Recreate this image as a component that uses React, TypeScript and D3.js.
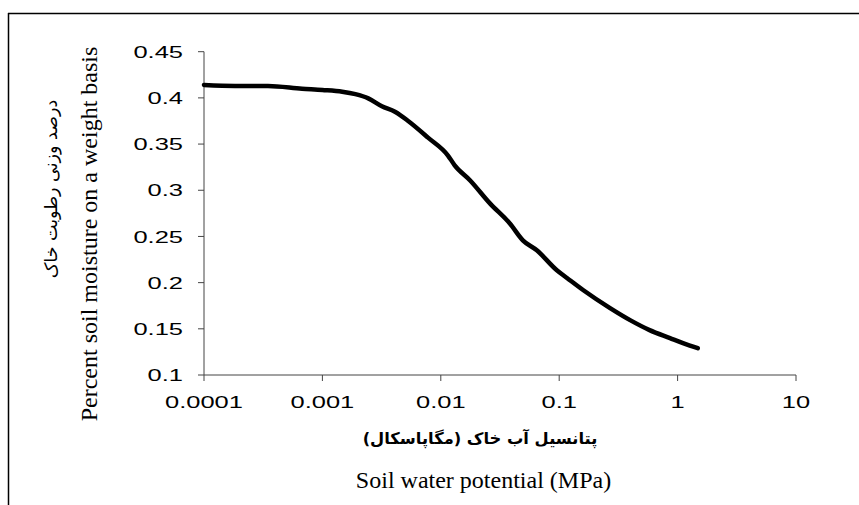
import React from "react";
import * as d3 from "d3";

// soil water retention curve
const potentialMPa = [
  0.0001, 0.000183, 0.000347, 0.000673, 0.001, 0.00147, 0.0019, 0.00244,
  0.00318, 0.0041, 0.0053, 0.0078, 0.0115, 0.0131, 0.0177, 0.026, 0.0383,
  0.0493, 0.0647, 0.0955, 0.117, 0.159, 0.269, 0.397, 0.58, 0.863, 1.11, 1.48,
];
const moisture = [
  0.414, 0.413, 0.413, 0.41, 0.4086, 0.4067, 0.404, 0.3995, 0.391, 0.385,
  0.375, 0.357, 0.3376, 0.327, 0.3106, 0.2858, 0.264, 0.2458, 0.235, 0.2134,
  0.2048, 0.192, 0.1724, 0.1594, 0.1486, 0.14, 0.1346, 0.129,
];
const xTicks = [0.0001, 0.001, 0.01, 0.1, 1, 10];
const xTickLabels = ["0.0001", "0.001", "0.01", "0.1", "1", "10"];
const yTicks = [0.1, 0.15, 0.2, 0.25, 0.3, 0.35, 0.4, 0.45];
const yTickLabels = ["0.1", "0.15", "0.2", "0.25", "0.3", "0.35", "0.4", "0.45"];

const W = 859;
const H = 505;
const plot = { left: 204, right: 796, top: 51.7, bottom: 375 };

export default function App() {
  const x = d3.scaleLog().domain([0.0001, 10]).range([plot.left, plot.right]);
  const y = d3.scaleLinear().domain([0.1, 0.45]).range([plot.bottom, plot.top]);

  const line = d3
    .line<number>()
    .x((d, i) => x(potentialMPa[i]))
    .y((d) => y(d))
    .curve(d3.curveMonotoneX);

  const axisColor = "#444";
  const sans = "'Liberation Sans', Arial, sans-serif";
  const serif = "'Liberation Serif', 'Times New Roman', serif";
  const persian = "'DejaVu Sans', sans-serif";
  // tick labels in the original are drawn wide
  const stretch = 1.5;

  return (
    <svg
      width={W}
      height={H}
      style={{ position: "absolute", left: 0, top: 0, background: "#fff" }}
    >
      <rect x={0} y={0} width={W} height={H} fill="#fff" />
      {/* frame: only top and left edges are visible */}
      <line x1={8} x2={W} y1={13.5} y2={13.5} stroke="#000" strokeWidth={1.5} />
      <line x1={8.5} x2={8.5} y1={13} y2={H} stroke="#000" strokeWidth={1.5} />

      {/* axes */}
      <line x1={plot.left} x2={plot.left} y1={plot.top} y2={plot.bottom} stroke={axisColor} />
      <line x1={plot.left} x2={plot.right} y1={plot.bottom} y2={plot.bottom} stroke={axisColor} />

      {yTicks.map((t, i) => (
        <g key={"y" + t}>
          <line x1={plot.left - 6} x2={plot.left} y1={y(t)} y2={y(t)} stroke={axisColor} />
          <text
            transform={`translate(183,${y(t)}) scale(${stretch},1)`}
            dy="0.36em"
            textAnchor="end"
            fontFamily={sans}
            fontSize={17}
          >
            {yTickLabels[i]}
          </text>
        </g>
      ))}

      {xTicks.map((t, i) => (
        <g key={"x" + t}>
          <line x1={x(t)} x2={x(t)} y1={plot.bottom} y2={plot.bottom + 6} stroke={axisColor} />
          <text
            transform={`translate(${x(t)},408) scale(${stretch},1)`}
            textAnchor="middle"
            fontFamily={sans}
            fontSize={17}
          >
            {xTickLabels[i]}
          </text>
        </g>
      ))}

      <path
        d={line(moisture) || ""}
        fill="none"
        stroke="#000"
        strokeWidth={4.5}
        strokeLinejoin="round"
        strokeLinecap="round"
      />

      {/* axis titles */}
      <text
        transform="translate(97,234) rotate(-90)"
        textAnchor="middle"
        fontFamily={serif}
        fontSize={24}
      >
        Percent soil moisture on a weight basis
      </text>
      <text
        transform="translate(57,189) rotate(-90)"
        textAnchor="middle"
        fontFamily={persian}
        fontSize={17.5}
        direction="rtl"
      >
        درصد وزنی رطوبت خاک
      </text>
      <text
        x={480}
        y={444}
        textAnchor="middle"
        fontFamily={persian}
        fontSize={16.3}
        fontWeight="bold"
        direction="rtl"
      >
        پتانسیل آب خاک (مگاپاسکال)
      </text>
      <text x={483.5} y={488} textAnchor="middle" fontFamily={serif} fontSize={24}>
        Soil water potential (MPa)
      </text>
    </svg>
  );
}
